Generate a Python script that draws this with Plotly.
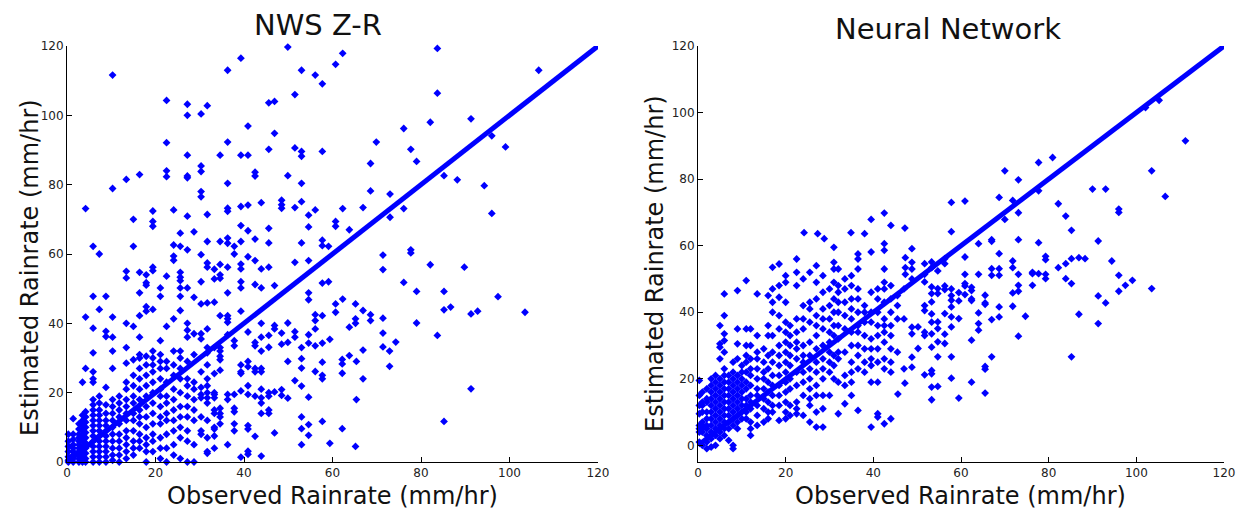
import plotly.graph_objects as go

# ---------------- data ----------------
diag = [0, 120]
x_ticks = [0, 20, 40, 60, 80, 100, 120]
y_ticks = [0, 20, 40, 60, 80, 100, 120]

# NWS Z-R : scattered points (observed, estimated)
nws_pts = [
    (49.9,119.7),(83.7,119.3),(39.3,116.5),(62.3,117.9),(60.7,114.7),(36.3,113),(53,113),(56.1,111.6),
    (57.7,109.1),(10.3,111.6),(106.6,113),(83.7,106.4),(51.5,106),(22.5,104.3),(27.2,103.2),(31.7,102.8),
    (45.6,103.6),(46.9,104),(27.2,100),(30.3,100.4),(82.1,98),(91.3,99),(40.9,96.9),(76.1,96.2),(46.9,94.8),
    (96,94.1),(22.5,92.1),(36.3,92.3),(69.9,92.3),(99.1,90.9),(45.6,90.2),(51.5,90.6),(53,89.6),(53,88.2),
    (57.7,89.6),(77.7,90.2),(27.2,88.5),(34.6,88.5),(39.3,88.5),(40.9,88.5),(79,86.7),(68.6,86.1),(30.3,85.4),
    (30.3,83.8),(22.5,84),(22.5,82.3),(27.2,82.5),(27.2,82),(42.5,83.6),(42.5,82.5),(49.9,82.6),(85.2,82.6),
    (10.3,78.9),(13.4,81.5),(16.4,82.9),(30.3,78),(30.3,76.5),(36.3,80.4),(53,80.4),(88.2,81.4),(68.6,78.2),
    (94.3,79.7),(48.5,75.5),(48.5,74.2),(48.5,73.2),(43.9,74.8),(53,75.1),(73,77.3),(39.3,73.7),(40.9,74.1),
    (36.3,73.2),(36.3,72.3),(51.5,73.4),(4.2,73.1),(24.1,72.7),(19.4,72.4),(19.4,69.4),(19.4,68),(56.1,72.7),
    (62.3,73.1),(66.9,73.4),(76.1,73.1),(96,71.7),(27.2,70.9),(31.7,71.4),(54.6,71.2),(73,70.6),(15,70),
    (60.7,69.4),(60.7,68),(39.3,68.2),(45.6,67.4),(54.6,67.8),(63.8,67),(25.6,66),(28.7,66.4),(40.9,66.7),
    (42.5,64.3),(36.3,64.6),(36.3,63.1),(39.3,63.6),(31.7,63.6),(34.6,63.6),(45.6,63.2),(53,63.2),(57.7,64),
    (57.7,62.4),(59.1,62.2),(5.9,62.2),(7.3,60),(15,62.2),(24.1,62.6),(24.1,59.4),(24.1,58.2),(25.6,62.2),
    (27.2,61.2),(37.8,62.2),(40.9,59.2),(37.8,60),(30.3,59.8),(31.7,57.4),(31.7,56.2),(34.6,57),(39.3,57.1),
    (39.3,55.7),(42.5,58.1),(43.9,55.7),(36.3,56.2),(33.3,55.6),(33.3,52.8),(34.6,54),(34.6,53),(45.6,56.2),
    (51.5,57.6),(54.6,58.1),(71.4,59.7),(77.7,61.2),(77.7,60.3),(89.8,56.2),(82.1,56.9),(71.4,55.5),(13.4,55),
    (13.4,53.1),(16.4,54.7),(17.9,54),(17.9,51.7),(17.9,51),(19.4,56.2),(19.4,55.2),(22.5,53.6),(25.6,54.7),
    (25.6,53.3),(25.6,52.3),(30.3,52),(39.3,52),(39.3,50.2),(42.5,51.2),(43.9,50.2),(46.9,50.9),(57.7,51.6),
    (59.1,52),(76.1,51.8),(79,49.2),(85.2,49.2),(97.4,47.7),(21.1,50.2),(21.1,47.8),(25.6,50.2),(25.6,47.8),
    (27.2,50.2),(16.4,48.8),(5.9,47.8),(8.8,47.8),(28.7,47.5),(31.7,45.9),(30.3,45.6),(33.3,46.1),(36.3,48.8),
    (54.6,48.8),(54.6,46.8),(60.7,45.6),(62.3,47),(65.2,45.6),(85.2,43.9),(86.7,44.7),(91.3,42.7),(92.8,43.5),
    (103.5,43.2),(60.7,43.2),(66.9,43.7),(68.6,42.5),(68.6,40.8),(56.1,42.5),(57.7,42.2),(71.4,41.5),(71.4,37.2),
    (79,40.1),(65.2,41.3),(65.2,40),(63.8,38.9),(56.1,40.8),(10.3,41.8),(4.2,41.8),(7.3,44),(5.9,38.6),
    (8.8,37.7),(8.8,36.2),(13.4,40),(15,39.1),(16.4,42.2),(17.9,44.8),(17.9,43.5),(19.4,44),(22.5,39.1),
    (24.1,41.3),(25.6,43.7),(83.7,36.5),(74.3,34.6),(71.4,33.2),(72.9,32),(72.9,27.6),(66.9,32.3),(63.8,30.7),
    (62.2,29.6),(62.2,28.3),(62.2,25.6),(65.4,29),(66.9,24),(65.4,18),(54.6,18.7),(53,21.9),(53,13),(53,9.6),
    (53,5),(54.6,10.8),(54.6,7.7),(57.7,11.7),(59.4,5.4),(62.2,9.6),(65.2,4.5),(85.2,11.7),(91.3,21.1),
    (57.7,28.8),(57.7,25),(57.7,24),(56.1,26.1),(54.6,36.7),(54.6,34.3),(57.7,34.3),(59.4,35.4),(56.1,38.4),
    (56.1,33.5),(53,33),(53,29.8),(53,27.1),(51.5,37.6),(51.5,36),(51.5,23.5),(49.9,40.1),(49.9,34.5),(49.9,29),
    (48.5,37.2),(48.5,34),(48.5,20.9),(48.5,19.2),(49.9,18.4),(46.9,39.4),(46.9,38.4),(46.9,20.2),(46.9,8.4),
    (45.6,36.5),(45.6,33.1),(45.6,20),(45.6,19),(45.6,15),(45.6,14),(43.9,40),(43.9,36),(43.9,32),(43.9,27),
    (43.9,26),(43.9,21),(43.9,18.5),(43.9,17),(43.9,14),(43.9,1.7),(42.5,33.5),(42.5,34.5),(42.5,27),(42.5,26),
    (42.5,19),(42.5,7.4),(40.9,37.5),(40.9,29),(40.9,27.5),(40.9,22),(40.9,19.5),(40.9,10.5),(40.9,9.5),
    (40.9,3.1),(40.9,2.2),(39.3,26),(39.3,25.5),(39.3,28),(39.3,20.5),(39.3,43.5),(39.3,1.4),(37.8,35),
    (37.8,33.5),(37.8,19.5),(37.8,15.5),(37.8,14.5),(37.8,11),(37.8,9),(36.3,19.5),(36.3,18),(36.3,5),
    (36.3,42.2),(36.3,41.3),(36.3,40.3),(36.3,36.7),(34.6,42.2),(34.6,33),(34.6,32),(34.6,30.5),(34.6,29.5),
    (34.6,26.5),(34.6,15.5),(34.6,14),(34.6,13),(34.6,11),(33.3,33),(33.3,25.5),(33.3,20),(33.3,19.5),
    (33.3,18.5),(33.3,15),(33.3,14),(33.3,10),(33.3,9.5),(33.3,7.5),(33.3,4),(31.7,38.4),(31.7,33),(31.7,31.5),
    (31.7,28),(31.7,24),(31.7,22),(31.7,20),(31.7,18.5),(31.7,17),(31.7,12),(31.7,7),(31.7,3),(31.7,2.5),
    (30.3,26),(30.3,21.5),(30.3,19.5),(30.3,18.5),(30.3,13),(30.3,9),(30.3,8),(30.3,35.5),(30.3,37),
]

# NWS Z-R : dense low-rate columns (observed, [estimated ...])
nws_cols = [
    (0.3, [0, 0.5, 1.5, 3, 4.5, 6, 8]),
    (1.4, [0, 1, 2, 3, 4, 5, 6.5, 8, 12.5]),
    (2.7, [0, 1, 2, 3, 4, 5, 6, 7, 8, 9.5, 11]),
    (3.5, [0, 1.5, 3, 4.5, 6, 7.5, 9, 10.5, 12, 13.5, 23]),
    (4.2, [0, 1, 2.5, 4, 5.5, 7, 8.5, 10, 11.5, 13, 14.5, 27]),
    (5.9, [0, 1.5, 3, 4.5, 6, 7.5, 9, 10.5, 12, 13.5, 15, 16.5, 18, 23, 24, 26, 31.5]),
    (7.3, [0, 1.5, 3, 4.5, 6, 7.5, 9, 10.5, 12, 13.5, 15, 17, 19]),
    (8.8, [0, 1.5, 3, 4.5, 6, 7.5, 9, 10.5, 12, 14, 16.5, 21.5]),
    (10.3, [0.5, 2, 4, 6, 8, 10, 12, 14, 16, 18, 27, 32, 36]),
    (11.8, [0, 2, 4, 6, 8, 11, 13, 15, 17, 19]),
    (13.4, [1, 3, 5, 7, 9, 12, 14, 16, 18, 21, 23, 28.5, 33]),
    (15.0, [2, 4, 6, 9, 12, 14, 17, 19, 22, 25, 29.5]),
    (16.4, [4, 6, 8, 11, 13, 15, 18, 21, 24, 27, 30, 31, 36]),
    (17.9, [0, 3, 5, 7, 10, 13, 16, 19, 22, 25, 28, 30.5]),
    (19.4, [3, 6, 8, 11, 14, 17, 20, 23, 26, 28, 30, 32]),
    (21.1, [1, 4, 7, 11, 13, 16, 19, 21, 24, 27, 29, 31, 35]),
    (22.5, [0, 4, 8, 12, 14, 17, 19, 23, 27, 29]),
    (24.1, [2, 5, 9, 12, 15, 18, 21, 25, 28, 32]),
    (25.6, [1, 7, 10, 13, 16, 20, 24, 27, 30, 32]),
    (27.2, [0, 6, 9, 13, 16, 19, 22, 24, 29, 36, 38, 40]),
    (28.7, [0, 5, 12, 15, 18, 21, 23, 31, 37]),
]

# Neural Network : scattered points (observed, estimated)
nn_pts = [
    (111.2,91.5),(103.5,82.5),(106.6,74.8),(105.2,103.7),(102.1,101.5),(90,77),(93,77),(96,71),(96,70),
    (80.9,86.5),(77.7,85),(70,82.5),(73.1,79.8),(68.7,74.5),(71.8,73.6),(57.8,73),(60.9,73.4),(77.7,76.5),
    (82.2,72.6),(83.9,68.9),(70,67.9),(73.1,69.9),(85.2,64.6),(91.3,61.4),(94.4,55.4),(96,51.1),(96,46.3),
    (97.5,48.1),(99.1,49.6),(91.3,44.9),(93,42.8),(91.3,36.6),(103.5,47.1),(86.9,39.4),(85.2,26.6),(85.2,48.6),
    (83.9,50.1),(83.9,54.6),(85.2,56.1),(86.9,56.4),(88.3,56.1),(82.2,53.4),(79.3,56.8),(79.3,55.8),(79.3,51.4),
    (79.3,50.1),(77.7,51.6),(76.3,52),(76.3,51.6),(77.7,60.9),(76.3,48.1),(73.1,61.8),(73.1,51.4),(73.1,48.1),
    (73.1,46.3),(73.1,32.8),(74.7,38.8),(71.8,55.4),(71.8,53.4),(71.8,45.8),(71.8,41.8),(68.7,57.6),(68.7,53.1),
    (68.7,51.1),(68.7,41.6),(68.7,38.6),(67,61.8),(67,61.3),(67,53.1),(67,51.1),(67,37.8),(67,26.6),(64,60.6),
    (64,51.4),(65.5,45.1),(65.5,42.8),(65.5,42.4),(64,39.8),(64,36.6),(64,34.6),(62.4,31.6),(62.4,19),
    (65.5,23.7),(65.5,22.9),(65.5,15.7),(59.5,14.2),(57.8,20.2),(57.8,26.6),(57.8,35.6),(57.8,38.6),(57.8,41.6),
    (57.8,43.6),(57.8,47),(57.8,45),(59.5,45.9),(59.5,43.4),(59.5,38.1),(60.9,56.6),(60.9,51.4),(60.9,48.6),
    (60.9,47.9),(60.9,45.3),(62.4,47.5),(62.4,46.5),(62.4,44),(62.4,43.5),(57.8,64.2),(56.3,56.1),(56.3,54.6),
    (56.3,47.9),(56.3,46.8),(56.3,39.6),(56.3,33.4),(56.3,30.6),(54.7,47.1),(54.7,45.6),(54.7,52.4),(54.7,37.1),
    (54.7,35.1),(54.7,31.1),(54.7,26.6),(54.7,17.7),(53.3,55.1),(53.3,53.4),(53.3,47.6),(53.3,45.6),(53.3,43.1),
    (53.3,39.5),(53.3,37),(53.3,33.5),(53.3,29.5),(53.3,22.5),(53.3,21.5),(53.3,17.5),(53.3,13.7),(51.7,54.6),
    (51.7,51.4),(51.7,49.1),(51.7,42),(51.7,40.5),(51.7,34),(51.7,33),(51.7,21.2),(50.2,35.6),(50.2,29.1),
    (48.8,59.1),(48.8,55),(48.8,53),(48.8,50),(48.8,35.5),(48.8,33.5),(48.8,26.5),(48.8,23.5),(47.3,56.4),
    (47.3,53.4),(47.3,51.4),(47.2,65.3),(45.6,15.4),(47.2,18.7),(44,66.1),(42.5,69.8),(42.5,60.6),(42.5,58.6),
    (39.5,67.9),(39.5,58.1),(38,63.6),(34.9,63.9),(27.3,63.6),(28.8,62.1),(24.2,63.9),
]

# Neural Network : dense low-rate columns (observed, [estimated ...])
nn_cols = [
    (0.3, [1, 4, 5, 6, 9.5, 12, 15, 19.5]),
    (1.0, [0, 4, 5, 6, 7, 10, 12, 13, 16]),
    (2.0, [-1, 1, 3, 5, 6, 8, 10, 13, 14, 17]),
    (3.0, [-0.5, 2, 4, 6, 8, 10, 12, 14, 16, 18, 20]),
    (4.0, [0, 3, 5, 7, 9, 11, 13, 15, 17, 19, 21]),
    (5.0, [2, 4, 6, 8, 10, 12, 14, 16, 18, 20, 26, 29.5, 30.5, 36]),
    (6.0, [3, 5, 7, 9, 11, 13, 15, 17, 19, 21, 23, 28, 31.5, 33.5, 39, 45.5]),
    (7.0, [1.5, 5, 7, 9, 11, 13, 15, 17, 19, 21]),
    (8.0, [-1, 0, 6, 8, 10, 12, 14, 16, 18, 20, 22, 25]),
    (9.0, [5, 7, 9, 11, 13, 15, 17, 19, 21, 26, 30.5, 35, 46.5]),
    (10.0, [8, 10, 12, 14, 16, 18, 20, 22, 24]),
    (11.0, [8, 10, 12, 14, 17, 19, 22, 25, 27, 30, 35, 49.5]),
    (12.0, [3, 5, 7, 11, 13, 15, 18, 21, 23, 26, 30, 35]),
    (13.5, [6, 9, 12, 15, 17, 20, 23, 26, 28, 33, 45.5]),
    (15.0, [7, 11, 14, 17, 20, 22, 25, 29]),
    (16.0, [8, 10, 13, 16, 19, 23, 27, 33, 36, 45]),
    (17.0, [10, 12, 15, 18, 21, 25, 28, 33, 40, 43, 47, 53.5]),
    (18.5, [7.5, 12, 15, 18, 21, 24, 27, 30, 35, 39, 44.5, 48, 54.5]),
    (20.0, [8, 10, 13, 16, 19, 22, 25, 28, 31, 34, 37, 43, 49, 51]),
    (21.0, [9, 12, 17, 20, 24, 27, 30, 33, 36]),
    (22.5, [9.5, 11, 13, 18, 22, 26, 29, 31, 34, 38, 48, 52, 56]),
    (24.0, [9, 15, 19, 22, 25, 27, 30, 35, 38, 42, 50]),
    (25.5, [7, 12, 14, 17, 20, 23, 27, 31, 37, 41, 43, 52]),
    (27.0, [5.5, 10, 15, 18, 22, 25, 29, 33, 36, 39, 44, 49, 54]),
    (28.5, [5.5, 11, 15, 20, 23, 26, 30, 35, 38, 41, 46, 51]),
    (30.0, [15, 22, 25, 28, 31, 34, 38, 42, 47]),
    (31.0, [20, 24, 27, 33, 36, 40, 44, 49, 53, 55, 59.5]),
    (32.0, [9.5, 19, 26, 28, 32, 36, 40, 43, 46, 48, 53]),
    (33.5, [12.5, 18, 21, 28, 35, 39, 43, 47, 50]),
    (35.0, [15, 19, 22, 25, 30, 34, 38, 41, 44, 48, 51]),
    (36.5, [10.5, 23, 27, 30, 34, 36, 40, 44, 47, 53, 56, 57.5]),
    (38.0, [22, 25, 29, 33, 37, 40, 42]),
    (39.5, [5.5, 19, 24, 26, 29, 32, 37, 40, 46]),
    (41.0, [8.5, 9.5, 19, 25, 29, 33, 36, 40, 44, 47]),
    (42.5, [6.5, 23, 26, 31, 34, 36, 38, 43, 47, 49, 53]),
    (44.0, [8, 22, 25, 29, 33, 36, 40, 44, 48]),
    (45.5, [28, 38, 42, 45]),
    (47.0, [23, 38, 47]),
]

# ---------------- build ----------------
def unpack(pts, cols):
    xs = [p[0] for p in pts]
    ys = [p[1] for p in pts]
    for cx, cys in cols:
        for cy in cys:
            xs.append(cx)
            ys.append(cy)
    return xs, ys

nws_x, nws_y = unpack(nws_pts, nws_cols)
nn_x, nn_y = unpack(nn_pts, nn_cols)

# page body has an 8px margin: size the figure to fit the window
OFF = 8
W, H = 1247 - 2 * OFF, 520 - 2 * OFF
BLUE = "#0000ff"
FONT = "DejaVu Sans"

fig = go.Figure()
for xs, ys, xa, ya in [(nws_x, nws_y, "x", "y"), (nn_x, nn_y, "x2", "y2")]:
    fig.add_trace(go.Scatter(x=xs, y=ys, mode="markers", xaxis=xa, yaxis=ya,
                             marker=dict(symbol="diamond", size=6, color=BLUE, line=dict(width=0)),
                             cliponaxis=False, showlegend=False, hoverinfo="skip"))
    fig.add_trace(go.Scatter(x=diag, y=diag, mode="lines", xaxis=xa, yaxis=ya,
                             line=dict(color=BLUE, width=5), cliponaxis=False,
                             showlegend=False, hoverinfo="skip"))

def px_x(p):
    return (p - OFF) / W

def px_y(p):
    return 1 - (p - OFF) / H

ydom = [px_y(462), px_y(46)]
axis_common = dict(showgrid=False, zeroline=False, showline=True, linecolor="#000000", linewidth=1,
                   ticks="inside", ticklen=5, tickcolor="#000000", tickwidth=1, automargin=False,
                   tickfont=dict(family=FONT, size=12, color="#222222"), mirror=False)

fig.update_layout(
    width=W, height=H, margin=dict(l=0, r=0, t=0, b=0, autoexpand=False),
    paper_bgcolor="white", plot_bgcolor="white",
    xaxis=dict(domain=[px_x(67), px_x(598)], range=[0, 120], tickvals=x_ticks, anchor="y", **axis_common),
    yaxis=dict(domain=ydom, range=[0, 120], tickvals=y_ticks, anchor="x", **axis_common),
    xaxis2=dict(domain=[px_x(698), px_x(1224)], range=[0, 120], tickvals=x_ticks, anchor="y2", **axis_common),
    yaxis2=dict(domain=ydom, range=[-5, 120], tickvals=y_ticks, anchor="x2", **axis_common),
)

ann = []
def add_text(text, x, y, size, angle=0):
    ann.append(dict(text=text, x=px_x(x), y=px_y(y), xref="paper", yref="paper",
                    xanchor="center", yanchor="middle", showarrow=False, textangle=angle,
                    font=dict(family=FONT, size=size, color="#111111")))

add_text("NWS Z-R", 318, 25, 29)
add_text("Neural Network", 948, 29, 29)
add_text("Estimated Rainrate (mm/hr)", 30, 268, 24, -90)
add_text("Estimated Rainrate (mm/hr)", 655, 264, 24, -90)
add_text("Observed Rainrate (mm/hr)", 332, 496, 24)
add_text("Observed Rainrate (mm/hr)", 960, 496, 24)
fig.update_layout(annotations=ann)

fig.write_html("out.html")
